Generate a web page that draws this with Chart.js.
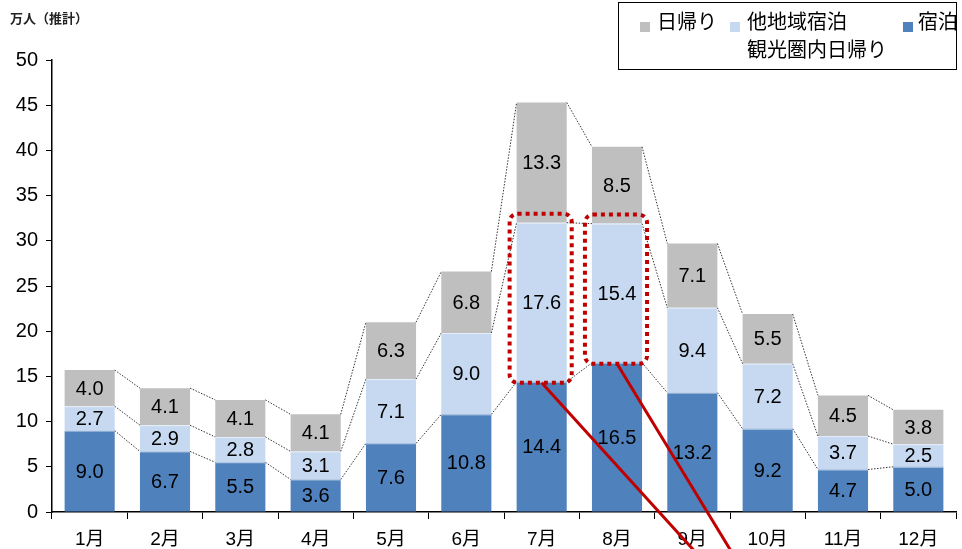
<!DOCTYPE html>
<html>
<head>
<meta charset="utf-8">
<script src="https://cdn.jsdelivr.net/npm/chart.js@4/dist/chart.umd.min.js"></script>
<style>
  body { margin: 0; background: #fff; }
  #wrap { position: relative; width: 962px; height: 549px; font-family: "Liberation Sans", "Noto Sans CJK JP", sans-serif; }
  #unit { position: absolute; left: 10px; top: 8px; font-size: 13px; font-weight: bold; color: #222; }
  #legend { position: absolute; left: 618px; top: 2px; width: 337px; height: 66px; border: 1px solid #000; font-size: 20px; color: #000; }
  .item { position: absolute; white-space: nowrap; line-height: 24px; }
  .sw { position: absolute; width: 10px; height: 10px; }
</style>
</head>
<body>
<div id="wrap">
  <canvas id="grafico" width="962" height="549"></canvas>
  <div id="unit">万人（推計）</div>
  <div id="legend">
    <span class="sw" style="left:21px;top:19px;background:#BFBFBF"></span>
    <div class="item" style="left:38px;top:7px">日帰り</div>
    <span class="sw" style="left:111px;top:19px;background:#C6D9F1"></span>
    <div class="item" style="left:128px;top:7px">他地域宿泊</div>
    <div class="item" style="left:128px;top:35px">観光圏内日帰り</div>
    <span class="sw" style="left:284px;top:19px;background:#4F81BD"></span>
    <div class="item" style="left:299px;top:7px">宿泊</div>
  </div>
</div>
<script>
// Datos (万人)
const meses = ["1月", "2月", "3月", "4月", "5月", "6月", "7月", "8月", "9月", "10月", "11月", "12月"];
const shukuhaku = [9.0, 6.7, 5.5, 3.6, 7.6, 10.8, 14.4, 16.5, 13.2, 9.2, 4.7, 5.0];
const taChiiki = [2.7, 2.9, 2.8, 3.1, 7.1, 9.0, 17.6, 15.4, 9.4, 7.2, 3.7, 2.5];
const higaeri = [4.0, 4.1, 4.1, 4.1, 6.3, 6.8, 13.3, 8.5, 7.1, 5.5, 4.5, 3.8];
const yTicks = [0, 5, 10, 15, 20, 25, 30, 35, 40, 45, 50];
// meses marcados en rojo (índices)
const marcados = [6, 7];

const fuente = '"Liberation Sans", "Noto Sans CJK JP", sans-serif';

// Etiquetas dentro de cada segmento + líneas punteadas entre barras
const segmentos = {
  id: 'segmentos',
  afterDatasetsDraw(chart) {
    const ctx = chart.ctx;
    const metas = chart.data.datasets.map((d, i) => chart.getDatasetMeta(i));

    // líneas punteadas negras que unen los tops de cada segmento
    ctx.save();
    ctx.strokeStyle = '#333';
    ctx.lineWidth = 1;
    ctx.setLineDash([1.5, 1.5]);
    metas.forEach(meta => {
      for (let i = 0; i < meta.data.length - 1; i++) {
        const a = meta.data[i], b = meta.data[i + 1];
        ctx.beginPath();
        ctx.moveTo(a.x + a.width / 2, a.y);
        ctx.lineTo(b.x - b.width / 2, b.y);
        ctx.stroke();
      }
    });
    ctx.restore();

    // separación clara entre segmentos
    ctx.save();
    ctx.strokeStyle = 'rgba(255,255,255,0.55)';
    ctx.lineWidth = 1;
    metas.slice(0, 2).forEach(meta => {
      meta.data.forEach(bar => {
        ctx.beginPath();
        ctx.moveTo(bar.x - bar.width / 2, bar.y + 0.5);
        ctx.lineTo(bar.x + bar.width / 2, bar.y + 0.5);
        ctx.stroke();
      });
    });
    ctx.restore();

    // valores
    ctx.save();
    ctx.fillStyle = '#000';
    ctx.font = '20px ' + fuente;
    ctx.textAlign = 'center';
    ctx.textBaseline = 'middle';
    metas.forEach((meta, di) => {
      meta.data.forEach((bar, i) => {
        const v = chart.data.datasets[di].data[i];
        ctx.fillText(v.toFixed(1), bar.x, (bar.y + bar.base) / 2 + 1);
      });
    });
    ctx.restore();
  },
  afterDraw(chart) {
    const ctx = chart.ctx;
    const meta = chart.getDatasetMeta(1);
    const xs = chart.scales.x;
    const destinoX = xs.getPixelForValue(9.5);
    const destinoY = chart.chartArea.bottom + 161;

    ctx.save();
    ctx.strokeStyle = '#C00000';
    marcados.forEach(i => {
      const bar = meta.data[i];
      const left = bar.x - bar.width / 2 - 7;
      const right = bar.x + bar.width / 2 + 5;
      const top = bar.y - 9;
      const bottom = bar.base + 1;

      // flecha roja hacia abajo
      ctx.setLineDash([]);
      ctx.lineWidth = 3;
      ctx.beginPath();
      ctx.moveTo(bar.x, bottom);
      ctx.lineTo(destinoX, destinoY);
      ctx.stroke();

      // recuadro punteado redondeado
      ctx.setLineDash([4, 4]);
      ctx.lineWidth = 4;
      ctx.beginPath();
      ctx.roundRect(left, top, right - left, bottom - top, 8);
      ctx.stroke();
    });
    ctx.restore();
  }
};

new Chart(document.getElementById('grafico').getContext('2d'), {
  type: 'bar',
  data: {
    labels: meses,
    datasets: [
      { label: '宿泊', data: shukuhaku, backgroundColor: '#4F81BD' },
      { label: '他地域宿泊 観光圏内日帰り', data: taChiiki, backgroundColor: '#C6D9F1' },
      { label: '日帰り', data: higaeri, backgroundColor: '#BFBFBF' }
    ]
  },
  options: {
    responsive: false,
    animation: false,
    layout: { padding: { top: 60, right: 6, left: 0, bottom: 0 } },
    datasets: {
      bar: { categoryPercentage: 1, barPercentage: 0.665, borderWidth: 0 }
    },
    plugins: {
      legend: { display: false },
      tooltip: { enabled: false }
    },
    scales: {
      x: {
        stacked: true,
        grid: { drawOnChartArea: false, drawTicks: true, tickLength: 7, color: '#000', offset: true },
        border: { color: '#000', width: 1.5 },
        ticks: { color: '#000', font: { family: fuente, size: 19 }, padding: 9, maxRotation: 0 },
        afterFit(scale) { scale.height = 37; }
      },
      y: {
        stacked: true,
        min: 0,
        max: 50,
        afterBuildTicks(scale) { scale.ticks = yTicks.map(v => ({ value: v })); },
        grid: { drawOnChartArea: false, drawTicks: true, tickLength: 6, color: '#000' },
        border: { color: '#000', width: 1.5 },
        ticks: { color: '#000', font: { family: fuente, size: 20 }, padding: 8 },
        afterFit(scale) { scale.width = 52; }
      }
    }
  },
  plugins: [segmentos]
});
</script>
</body>
</html>
